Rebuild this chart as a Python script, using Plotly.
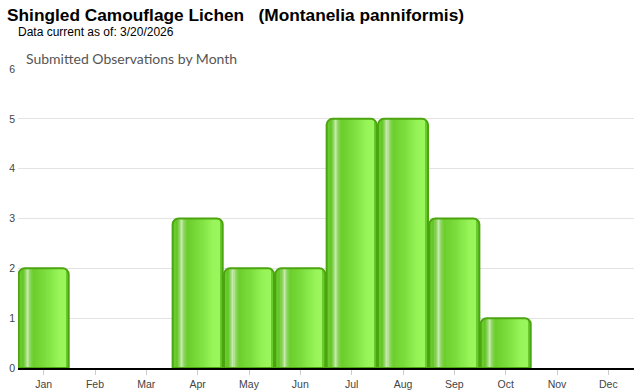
import plotly.graph_objects as go

months = ["Jan", "Feb", "Mar", "Apr", "May", "Jun", "Jul", "Aug", "Sep", "Oct", "Nov", "Dec"]
observations = [2, 0, 0, 3, 2, 2, 5, 5, 3, 1, 0, 0]
y_ticks = [0, 1, 2, 3, 4, 5, 6]

title_text = "Shingled Camouflage Lichen   (Montanelia panniformis)"
subtitle_text = "Data current as of: 3/20/2026"
chart_title = "Submitted Observations by Month"

# style: horizontal gradient stops (fraction of bar width, rgb)
grad_stops = [
    (0.00, (92, 184, 34)),
    (0.10, (104, 200, 42)),
    (0.15, (150, 215, 110)),
    (0.19, (200, 234, 175)),
    (0.24, (140, 214, 96)),
    (0.31, (108, 206, 44)),
    (0.55, (124, 222, 62)),
    (0.80, (150, 244, 88)),
    (0.92, (154, 246, 92)),
    (1.00, (110, 200, 50)),
]


def grad_color(f):
    for (f0, c0), (f1, c1) in zip(grad_stops[:-1], grad_stops[1:]):
        if f0 <= f <= f1:
            t = 0 if f1 == f0 else (f - f0) / (f1 - f0)
            c = [round(a + (b - a) * t) for a, b in zip(c0, c1)]
            return "rgb({},{},{})".format(*c)
    return "rgb({},{},{})".format(*grad_stops[-1][1])


vals = [v if v else None for v in observations]
W = 0.975
fig = go.Figure()

# base rounded bar
fig.add_trace(go.Bar(
    x=months, y=vals, width=W,
    marker=dict(color="rgb(104,204,44)", line=dict(width=0), cornerradius=6),
    hoverinfo="skip", showlegend=False,
))

# gradient stripes
n = 40
f_start, f_end = 0.07, 0.93
step = (f_end - f_start) / n
for i in range(n):
    f = f_start + i * step
    fig.add_trace(go.Bar(
        x=months, y=vals,
        offset=-W / 2 + f * W, width=step * W * 1.15,
        marker=dict(color=grad_color(f + step / 2), line=dict(width=0)),
        hoverinfo="skip", showlegend=False,
    ))

# outline
fig.add_trace(go.Bar(
    x=months, y=vals, width=W,
    marker=dict(color="rgba(0,0,0,0)", line=dict(width=2, color="rgb(76,164,16)"), cornerradius=6),
    showlegend=False, name="Observations",
))

L, R, T, B = 18, 634, 69, 368
pw, ph = R - L, B - T

fig.update_layout(
    width=640, height=390,
    margin=dict(l=L, r=640 - R, t=T, b=390 - B, autoexpand=False),
    paper_bgcolor="white", plot_bgcolor="white",
    barmode="overlay", bargap=0.02,
    title=dict(text="<b>" + title_text + "</b>", x=7 / 640, xanchor="left",
               y=1 - 15 / 390, yanchor="middle", xref="container", yref="container",
               font=dict(family="Liberation Sans, Arial, sans-serif", size=17.3, color="black")),
    annotations=[
        dict(text=subtitle_text, xref="paper", yref="paper", x=(16 - L) / pw, y=(B - 32) / ph,
             xanchor="left", yanchor="middle", showarrow=False,
             font=dict(family="Liberation Sans, Arial, sans-serif", size=12, color="black")),
        dict(text=chart_title, xref="paper", yref="paper", x=(24 - L) / pw, y=(B - 58) / ph,
             xanchor="left", yanchor="middle", showarrow=False,
             font=dict(family="Lato, sans-serif", size=14, color="#555555")),
    ],
    xaxis=dict(type="category", showgrid=False, showline=True, linecolor="black", linewidth=2,
               ticks="outside", ticklen=5, tickcolor="#cccccc", tickwidth=1, automargin=False,
               tickfont=dict(family="Liberation Sans, Arial, sans-serif", size=10.5, color="#444444"),
               fixedrange=True),
    yaxis=dict(range=[0, 6], tickvals=y_ticks, showgrid=True, gridcolor="#e3e3e3", gridwidth=1,
               zeroline=False, showline=False, ticks="", ticklabelstandoff=2, automargin=False,
               tickfont=dict(family="Liberation Sans, Arial, sans-serif", size=10.5, color="#444444"),
               fixedrange=True),
)

fig.write_html("out.html")
